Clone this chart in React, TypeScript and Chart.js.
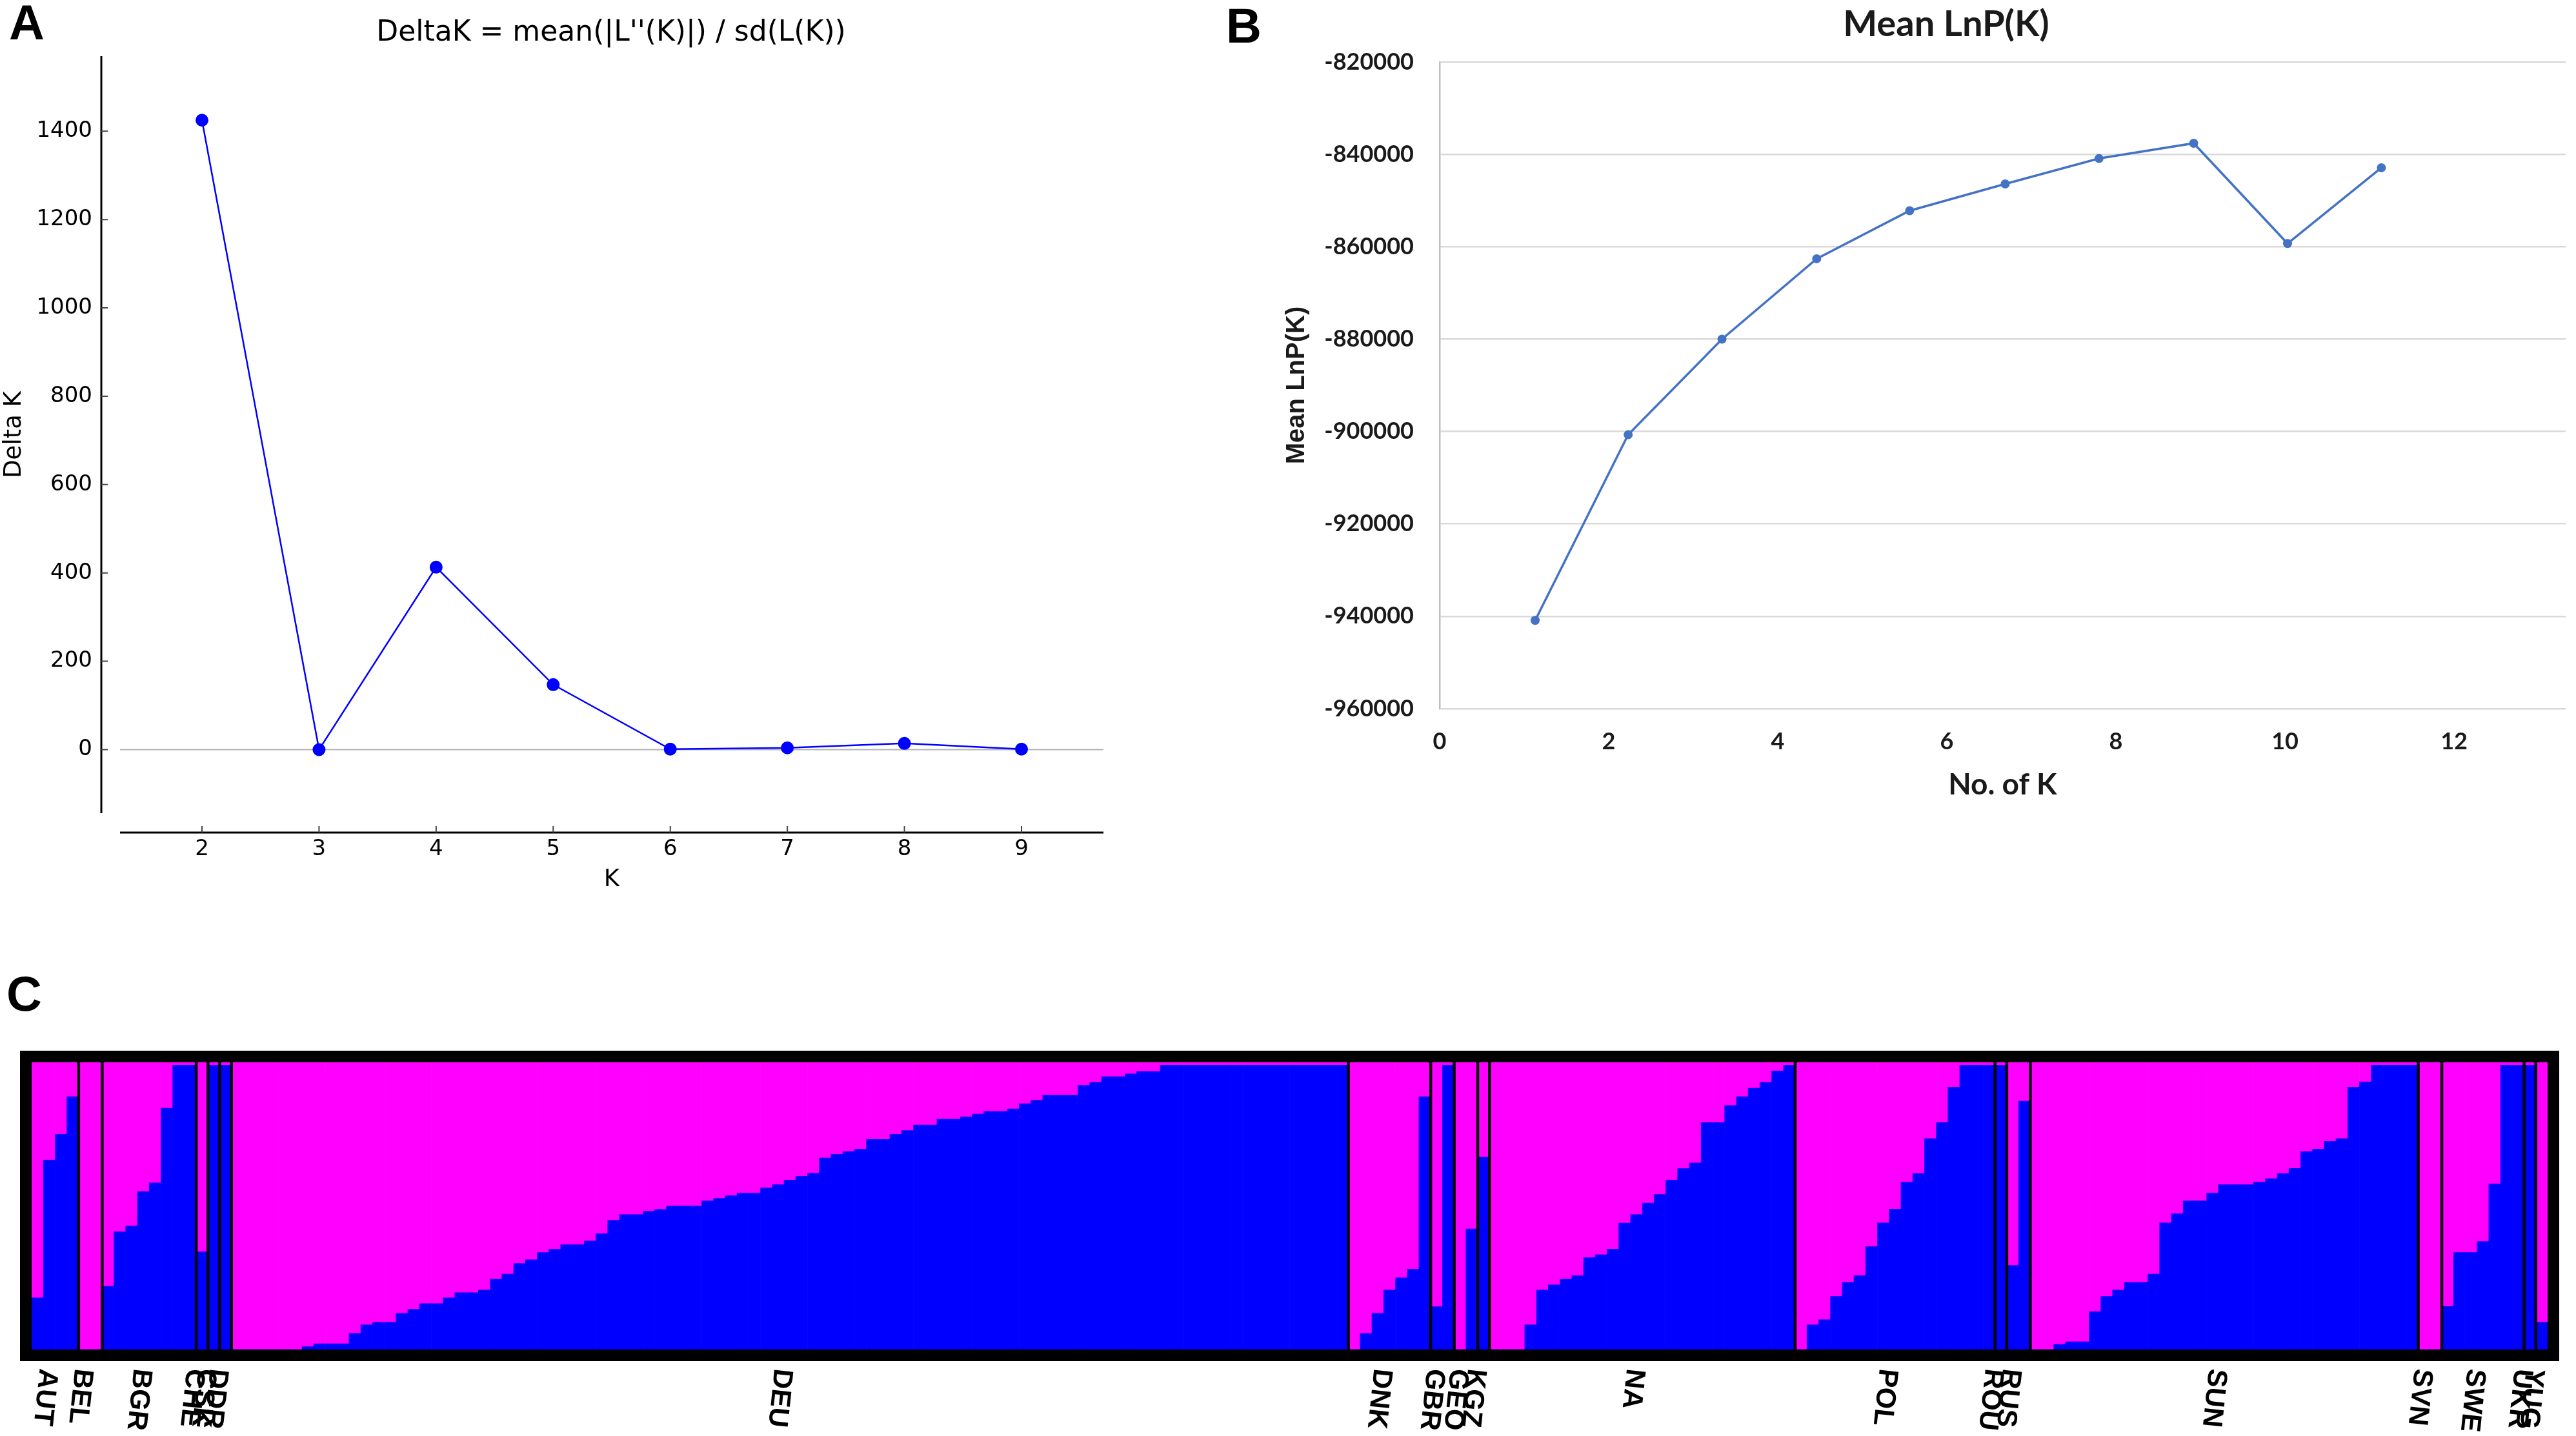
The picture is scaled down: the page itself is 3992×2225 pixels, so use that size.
import React, { useEffect, useRef } from "react";
import { Chart, registerables } from "chart.js";

Chart.register(...registerables);

// ---------------- Panel A : Delta K ----------------
const kValuesA = [2, 3, 4, 5, 6, 7, 8, 9];
const deltaK = [1425, 0, 413, 147, 1, 4, 14, 1];
const xTicksA = [2, 3, 4, 5, 6, 7, 8, 9];
const yTicksA = [0, 200, 400, 600, 800, 1000, 1200, 1400];

// ---------------- Panel B : Mean LnP(K) ----------------
const kPositionsB = [1.13, 2.23, 3.34, 4.46, 5.56, 6.69, 7.8, 8.92, 10.03, 11.14];
const meanLnP = [-940900, -900700, -880000, -862600, -852200, -846400, -840900, -837600, -859300, -842900];
const xTicksB = [0, 2, 4, 6, 8, 10, 12];
const yTicksB = [-960000, -940000, -920000, -900000, -880000, -860000, -840000, -820000];

// ---------------- Panel C : STRUCTURE bar plot (blue cluster share per individual) ----------------
const AUT = [0.18, 0.66, 0.75, 0.88];
const BEL = [0, 0];
const BGR = [0.22, 0.41, 0.43, 0.55, 0.58, 0.84, 0.99, 0.99];
const CHE = [0.34];
const CSK = [0.99];
const DDR = [0.99];
const DEU = [
  0, 0, 0, 0, 0, 0, 0.01, 0.02, 0.02, 0.02,
  0.056, 0.086, 0.095, 0.095, 0.126, 0.14, 0.16, 0.16, 0.18, 0.198,
  0.198, 0.207, 0.245, 0.263, 0.3, 0.313, 0.338, 0.349, 0.365, 0.365,
  0.378, 0.403, 0.45, 0.47, 0.47, 0.482, 0.488, 0.5, 0.5, 0.5,
  0.518, 0.527, 0.536, 0.545, 0.545, 0.563, 0.574, 0.59, 0.604, 0.614,
  0.667, 0.68, 0.689, 0.698, 0.732, 0.732, 0.75, 0.763, 0.782, 0.782,
  0.802, 0.802, 0.81, 0.82, 0.829, 0.829, 0.838, 0.856, 0.868, 0.885,
  0.885, 0.885, 0.92, 0.93, 0.95, 0.95, 0.96, 0.968, 0.968, 0.99,
  0.99, 0.99, 0.99, 0.99, 0.99, 0.99, 0.99, 0.99, 0.99, 0.99,
  0.99, 0.99, 0.99, 0.99, 0.99,
];
const DNK = [0, 0.056, 0.126, 0.207, 0.25, 0.28, 0.88];
const GBR = [0.149, 0.99];
const GEO = [0, 0.42];
const KGZ = [0.67];
const NA = [
  0, 0, 0, 0.086, 0.207, 0.225, 0.245, 0.257, 0.32, 0.33,
  0.35, 0.44, 0.47, 0.51, 0.54, 0.59, 0.63, 0.65, 0.79, 0.79,
  0.85, 0.88, 0.91, 0.93, 0.97, 0.99,
];
const POL = [0, 0.086, 0.104, 0.185, 0.234, 0.257, 0.358, 0.441, 0.489, 0.583, 0.613, 0.734, 0.79, 0.914, 0.99, 0.99, 0.99];
const ROU = [0.99];
const RUS = [0.293, 0.865];
const SUN = [
  0, 0, 0.018, 0.027, 0.027, 0.132, 0.185, 0.207, 0.234, 0.234,
  0.263, 0.441, 0.473, 0.518, 0.518, 0.545, 0.574, 0.574, 0.574, 0.583,
  0.595, 0.613, 0.631, 0.689, 0.698, 0.725, 0.734, 0.914, 0.932, 0.99,
  0.99, 0.99, 0.99,
];
const SVN = [0, 0];
const SWE = [0.15, 0.338, 0.338, 0.376, 0.577, 0.99, 0.99];
const UKR = [0.99];
const YUG = [0.095];

const populationNames = [
  "AUT", "BEL", "BGR", "CHE", "CSK", "DDR", "DEU", "DNK", "GBR", "GEO",
  "KGZ", "NA", "POL", "ROU", "RUS", "SUN", "SVN", "SWE", "UKR", "YUG",
];
const populationValues = [
  AUT, BEL, BGR, CHE, CSK, DDR, DEU, DNK, GBR, GEO,
  KGZ, NA, POL, ROU, RUS, SUN, SVN, SWE, UKR, YUG,
];

const BLUE = "#0000ff";
const MAGENTA = "#ff00ff";

const spinesPluginA = {
  id: "spinesA",
  beforeDatasetsDraw(chart: any) {
    const { ctx, chartArea } = chart;
    const y = chart.scales.y;
    ctx.save();
    ctx.strokeStyle = "#b3b3b3";
    ctx.lineWidth = 2;
    ctx.beginPath();
    const y0 = y.getPixelForValue(0);
    ctx.moveTo(chartArea.left, y0);
    ctx.lineTo(chartArea.right, y0);
    ctx.stroke();
    ctx.restore();
  },
  afterDraw(chart: any) {
    const { ctx, chartArea } = chart;
    const xs = chart.scales.x;
    const ys = chart.scales.y;
    const spineX = chartArea.left - 29;
    const spineY = chartArea.bottom + 30;
    ctx.save();
    ctx.strokeStyle = "#000";
    ctx.lineWidth = 3;
    ctx.beginPath();
    ctx.moveTo(spineX, chartArea.top);
    ctx.lineTo(spineX, chartArea.bottom);
    ctx.moveTo(chartArea.left, spineY);
    ctx.lineTo(chartArea.right, spineY);
    ctx.stroke();
    ctx.strokeStyle = "#444";
    ctx.lineWidth = 2;
    ctx.beginPath();
    yTicksA.forEach((v) => {
      const p = ys.getPixelForValue(v);
      ctx.moveTo(spineX, p);
      ctx.lineTo(spineX + 10, p);
    });
    xTicksA.forEach((v) => {
      const p = xs.getPixelForValue(v);
      ctx.moveTo(p, spineY);
      ctx.lineTo(p, spineY - 10);
    });
    ctx.stroke();
    ctx.restore();
  },
};

const structurePlugin = {
  id: "structureFrame",
  afterDatasetsDraw(chart: any) {
    const { ctx, chartArea } = chart;
    const xs = chart.scales.x;
    ctx.save();
    // population separators
    ctx.strokeStyle = "#000";
    ctx.lineWidth = 4.5;
    let idx = 0;
    ctx.beginPath();
    populationValues.forEach((vals, i) => {
      if (i > 0) {
        const xp = (xs.getPixelForValue(idx - 1) + xs.getPixelForValue(idx)) / 2;
        ctx.moveTo(xp, chartArea.top);
        ctx.lineTo(xp, chartArea.bottom);
      }
      idx += vals.length;
    });
    ctx.stroke();
    // thick frame
    ctx.lineWidth = 18;
    ctx.strokeRect(
      chartArea.left - 9,
      chartArea.top - 9,
      chartArea.right - chartArea.left + 18,
      chartArea.bottom - chartArea.top + 18
    );
    ctx.restore();
  },
  afterDraw(chart: any) {
    const { ctx, chartArea } = chart;
    const xs = chart.scales.x;
    ctx.save();
    ctx.fillStyle = "#000";
    ctx.font = 'bold 43px "Liberation Sans", Arial, sans-serif';
    ctx.textAlign = "left";
    ctx.textBaseline = "middle";
    let idx = 0;
    populationValues.forEach((vals, i) => {
      const cx = (xs.getPixelForValue(idx) + xs.getPixelForValue(idx + vals.length - 1)) / 2 - 12;
      idx += vals.length;
      ctx.save();
      ctx.translate(cx, chartArea.bottom + 18 + 12);
      ctx.rotate((96 * Math.PI) / 180);
      ctx.fillText(populationNames[i], 0, 0);
      ctx.restore();
    });
    ctx.restore();
  },
};

export default function App() {
  const aRef = useRef<HTMLCanvasElement>(null);
  const bRef = useRef<HTMLCanvasElement>(null);
  const cRef = useRef<HTMLCanvasElement>(null);

  useEffect(() => {
    const dejavu = "DejaVu Sans";
    const chartA = new Chart(aRef.current as HTMLCanvasElement, {
      type: "line",
      data: {
        datasets: [
          {
            data: kValuesA.map((k, i) => ({ x: k, y: deltaK[i] })),
            borderColor: BLUE,
            backgroundColor: BLUE,
            borderWidth: 2.5,
            pointRadius: 10,
            pointBorderWidth: 0,
            pointBackgroundColor: BLUE,
            tension: 0,
          },
        ],
      },
      options: {
        responsive: false,
        animation: false,
        devicePixelRatio: 1,
        layout: { padding: { left: 0, right: 50, top: 87, bottom: 0 } },
        plugins: { legend: { display: false }, tooltip: { enabled: false } },
        scales: {
          x: {
            type: "linear",
            min: 1.3,
            max: 9.7,
            afterBuildTicks: (s: any) => {
              s.ticks = xTicksA.map((v) => ({ value: v }));
            },
            afterFit: (s: any) => {
              s.height = 160;
            },
            grid: { display: false, drawTicks: false },
            border: { display: false },
            ticks: {
              padding: 36,
              font: { family: dejavu, size: 34 },
              color: "#000",
              autoSkip: false,
              maxRotation: 0,
              callback: (v: any) => String(v),
            },
            title: { display: true, text: "K", font: { family: dejavu, size: 37 }, color: "#000", padding: { top: 0, bottom: 34 } },
          },
          y: {
            type: "linear",
            min: -144,
            max: 1570,
            afterBuildTicks: (s: any) => {
              s.ticks = yTicksA.map((v) => ({ value: v }));
            },
            afterFit: (s: any) => {
              s.width = 186;
            },
            grid: { display: false, drawTicks: false },
            border: { display: false },
            ticks: {
              padding: 43,
              font: { family: dejavu, size: 34 },
              color: "#000",
              autoSkip: false,
              callback: (v: any) => String(v),
            },
            title: { display: true, text: "Delta K", font: { family: dejavu, size: 37 }, color: "#000", padding: { top: 0, bottom: 0 } },
          },
        },
      },
      plugins: [spinesPluginA],
    } as any);

    const chartB = new Chart(bRef.current as HTMLCanvasElement, {
      type: "line",
      data: {
        datasets: [
          {
            data: kPositionsB.map((k, i) => ({ x: k, y: meanLnP[i] })),
            borderColor: "#4472c4",
            backgroundColor: "#4472c4",
            borderWidth: 3.5,
            pointRadius: 7,
            pointBorderWidth: 0,
            pointBackgroundColor: "#4472c4",
            tension: 0,
          },
        ],
      },
      options: {
        responsive: false,
        animation: false,
        devicePixelRatio: 1,
        layout: { padding: { left: 0, right: 16, top: 96, bottom: 0 } },
        plugins: { legend: { display: false }, tooltip: { enabled: false } },
        scales: {
          x: {
            type: "linear",
            min: 0,
            max: 13.32,
            afterBuildTicks: (s: any) => {
              s.ticks = xTicksB.map((v) => ({ value: v }));
            },
            afterFit: (s: any) => {
              s.height = 182;
            },
            grid: { display: false, drawTicks: false },
            border: { display: false },
            ticks: { padding: 30, font: { family: "Lato", size: 36, weight: "bold" }, color: "#1a1a1a", autoSkip: false, maxRotation: 0 },
            title: { display: true, text: "No. of K", font: { family: "Lato", size: 46, weight: "bold" }, color: "#1a1a1a", padding: { top: 0, bottom: 36 } },
          },
          y: {
            type: "linear",
            min: -960000,
            max: -820000,
            afterBuildTicks: (s: any) => {
              s.ticks = yTicksB.map((v) => ({ value: v }));
            },
            afterFit: (s: any) => {
              s.width = 351;
            },
            grid: { color: "#d9d9d9", lineWidth: 2.5, drawTicks: false },
            border: { display: true, color: "#bfbfbf", width: 2.5 },
            ticks: {
              padding: 40,
              font: { family: "Lato", size: 36, weight: "bold" },
              color: "#1a1a1a",
              autoSkip: false,
              callback: (v: any) => String(v),
            },
            title: {
              display: true,
              text: "Mean LnP(K)",
              font: { family: '"Liberation Sans", Arial', size: 40, weight: "bold" },
              color: "#1a1a1a",
              padding: { top: 106, bottom: 0 },
            },
          },
        },
      },
    } as any);

    const blueQ: number[] = [];
    const ids: string[] = [];
    populationValues.forEach((vals, i) => {
      vals.forEach((q, j) => {
        blueQ.push(q);
        ids.push(populationNames[i] + "_" + (j + 1));
      });
    });

    const chartC = new Chart(cRef.current as HTMLCanvasElement, {
      type: "bar",
      data: {
        labels: ids,
        datasets: [
          {
            label: "Cluster 1",
            data: blueQ,
            backgroundColor: BLUE,
            borderWidth: 0,
            barPercentage: 1,
            categoryPercentage: 1,
          },
          {
            label: "Cluster 2",
            data: blueQ.map((q) => 1 - q),
            backgroundColor: MAGENTA,
            borderWidth: 0,
            barPercentage: 1,
            categoryPercentage: 1,
          },
        ],
      },
      options: {
        responsive: false,
        animation: false,
        devicePixelRatio: 1,
        layout: { padding: { left: 49, right: 44, top: 66, bottom: 134 } },
        plugins: { legend: { display: false }, tooltip: { enabled: false } },
        scales: {
          x: { display: false, stacked: true },
          y: { display: false, stacked: true, min: 0, max: 1 },
        },
      },
      plugins: [structurePlugin],
    } as any);

    return () => {
      chartA.destroy();
      chartB.destroy();
      chartC.destroy();
    };
  }, []);

  const letter = (left: number, top: number): React.CSSProperties => ({
    position: "absolute",
    left,
    top,
    fontFamily: '"Liberation Sans", Arial, sans-serif',
    fontWeight: "bold",
    fontSize: 76,
    lineHeight: "76px",
    color: "#000",
    zIndex: 2,
  });

  return (
    <div style={{ position: "absolute", left: 0, top: 0, width: 3992, height: 2225, background: "#fff", overflow: "hidden" }}>
      <canvas ref={aRef} width={1760} height={1420} style={{ position: "absolute", left: 0, top: 0 }} />
      <canvas ref={bRef} width={2112} height={1280} style={{ position: "absolute", left: 1880, top: 0 }} />
      <canvas ref={cRef} width={3992} height={645} style={{ position: "absolute", left: 0, top: 1580 }} />
      <div style={letter(14, -3)}>A</div>
      <div style={letter(1900, 2)}>B</div>
      <div style={letter(10, 1502)}>C</div>
      <div
        style={{
          position: "absolute",
          left: 947,
          top: 26,
          transform: "translateX(-50%)",
          fontFamily: '"DejaVu Sans", sans-serif',
          fontSize: 44,
          lineHeight: "44px",
          whiteSpace: "nowrap",
          color: "#000",
        }}
      >
        {"DeltaK = mean(|L''(K)|) / sd(L(K))"}
      </div>
      <div
        style={{
          position: "absolute",
          left: 3016,
          top: 7,
          transform: "translateX(-50%)",
          fontFamily: "Lato, sans-serif",
          fontWeight: "bold",
          fontSize: 56,
          lineHeight: "56px",
          whiteSpace: "nowrap",
          color: "#1a1a1a",
        }}
      >
        Mean LnP(K)
      </div>
    </div>
  );
}
